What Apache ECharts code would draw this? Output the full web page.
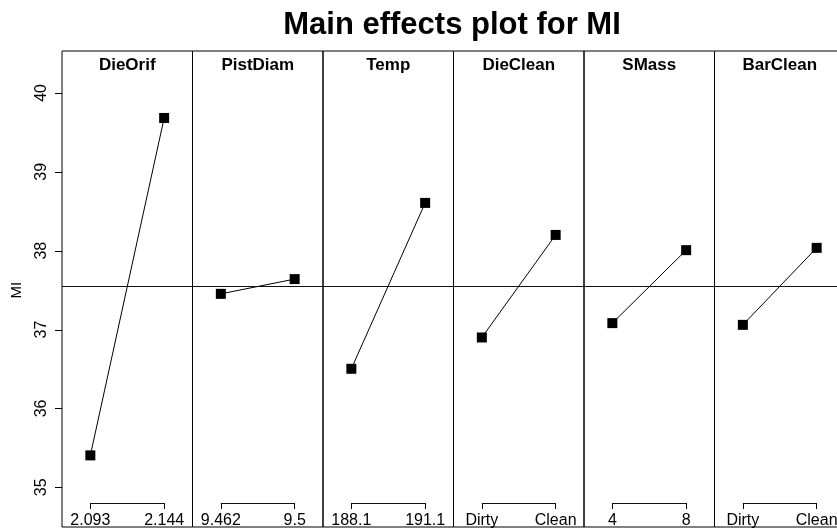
<!DOCTYPE html>
<html><head><meta charset="utf-8">
<script src="https://cdn.jsdelivr.net/npm/echarts@6/dist/echarts.min.js"></script>
<style>html,body{margin:0;padding:0;background:#fff}#c{width:837px;height:529px}</style>
</head><body><div id="c"></div>
<script>
// ---- data ----
const factors = ['DieOrif', 'PistDiam', 'Temp', 'DieClean', 'SMass', 'BarClean'];
const lowLabels = ['2.093', '9.462', '188.1', 'Dirty', '4', 'Dirty'];
const highLabels = ['2.144', '9.5', '191.1', 'Clean', '8', 'Clean'];
const lowMeans = [35.405, 37.453, 36.503, 36.90, 37.082, 37.06];
const highMeans = [39.683, 37.640, 38.606, 38.20, 38.007, 38.036];
const grandMean = 37.551;
const yTickMin = 35, yTickMax = 40, yTickStep = 1;

// ---- layout ----
const FONT = '"Liberation Sans", Arial, Helvetica, sans-serif';
const PANEL_LEFT = 62, PANEL_W = 130.5, PANEL_TOP = 51, PANEL_H = 476;
const Y_MIN = 34.497, Y_MAX = 40.532;
const X_MIN = -0.384, X_MAX = 1.384;
const BRACKET_Y = 34.80;
const TICK_LEN = 7;
const PX_PER_UNIT = PANEL_H / (Y_MAX - Y_MIN);

const chart = echarts.init(document.getElementById('c'), null, {renderer: 'canvas'});
const grids = [], xAxes = [], yAxes = [], series = [], titles = [];
titles.push({text: 'Main effects plot for MI', left: 452, top: 10, textAlign: 'center', padding: 0,
  textStyle: {fontFamily: FONT, fontSize: 31, fontWeight: 'bold', color: '#000'}});
factors.forEach((f, i) => {
  const left = PANEL_LEFT + i * PANEL_W;
  grids.push({left: left, top: PANEL_TOP, width: PANEL_W, height: PANEL_H, show: true,
    outerBoundsMode: 'none', containLabel: false,
    borderColor: '#000', borderWidth: 1, backgroundColor: 'transparent'});
  titles.push({text: f, left: left + PANEL_W / 2, top: 57, textAlign: 'center', padding: 0,
    textStyle: {fontFamily: FONT, fontSize: 17, fontWeight: 'bold', color: '#000'}});
  xAxes.push({gridIndex: i, type: 'value', min: X_MIN, max: X_MAX, position: 'bottom', offset: -24,
    splitLine: {show: false}, axisLine: {show: false, onZero: false},
    axisTick: {show: true, customValues: [0, 1], length: 6, lineStyle: {color: '#000', width: 1}},
    axisLabel: {customValues: [0, 1], formatter: v => (v === 0 ? lowLabels[i] : highLabels[i]),
      fontSize: 16, color: '#000', fontFamily: FONT, margin: 10}});
  yAxes.push({gridIndex: i, type: 'value', min: Y_MIN, max: Y_MAX,
    splitLine: {show: false}, axisLine: {show: false, onZero: false},
    axisTick: {show: false}, axisLabel: {show: false}});
  series.push({type: 'line', xAxisIndex: i, yAxisIndex: i,
    data: [[0, lowMeans[i]], [1, highMeans[i]]],
    symbol: 'rect', symbolSize: 10, itemStyle: {color: '#000'},
    lineStyle: {color: '#000', width: 1}, animation: false, silent: true,
    markLine: {silent: true, symbol: 'none', label: {show: false}, animation: false,
      lineStyle: {color: '#111', width: 1, type: 'solid'},
      emphasis: {disabled: true},
      data: [{yAxis: grandMean}, [{coord: [0, BRACKET_Y]}, {coord: [1, BRACKET_Y]}]]}});
});
// narrow grid left of the panels carrying the y-axis labels (35..40)
const tickTop = PANEL_TOP + (Y_MAX - yTickMax) * PX_PER_UNIT;
const tickH = (yTickMax - yTickMin) * PX_PER_UNIT;
grids.push({left: PANEL_LEFT - TICK_LEN, top: tickTop, width: TICK_LEN, height: tickH, show: false,
  outerBoundsMode: 'none', containLabel: false});
xAxes.push({gridIndex: 6, type: 'value', min: 0, max: 1, position: 'bottom',
  axisLine: {show: false}, axisTick: {show: false}, axisLabel: {show: false}, splitLine: {show: false}});
yAxes.push({gridIndex: 6, type: 'value', min: yTickMin, max: yTickMax, interval: yTickStep, position: 'left',
  splitLine: {show: false},
  axisLine: {show: false, onZero: false}, axisTick: {show: false},
  axisLabel: {show: true, rotate: 90, fontSize: 16, color: '#000', fontFamily: FONT, margin: 5},
  name: 'MI', nameLocation: 'middle', nameGap: 31, nameRotate: 90,
  nameTextStyle: {fontFamily: FONT, fontSize: 15, color: '#000'}});

// outward y ticks, at the first panel's y scale positions
const tickGraphics = [];
for (let v = yTickMin; v <= yTickMax; v += yTickStep) {
  let py = chart.getModel ? NaN : NaN;
  py = PANEL_TOP + (Y_MAX - v) * PX_PER_UNIT;
  const y = Math.round(py) + 0.5;
  tickGraphics.push({type: 'line', silent: true, z: 100, zlevel: 0,
    shape: {x1: PANEL_LEFT - TICK_LEN, y1: y, x2: PANEL_LEFT, y2: y},
    style: {stroke: '#000', lineWidth: 1}});
}
chart.setOption({animation: false, backgroundColor: '#fff', title: titles, grid: grids,
  xAxis: xAxes, yAxis: yAxes, series: series, graphic: tickGraphics});
</script></body></html>
